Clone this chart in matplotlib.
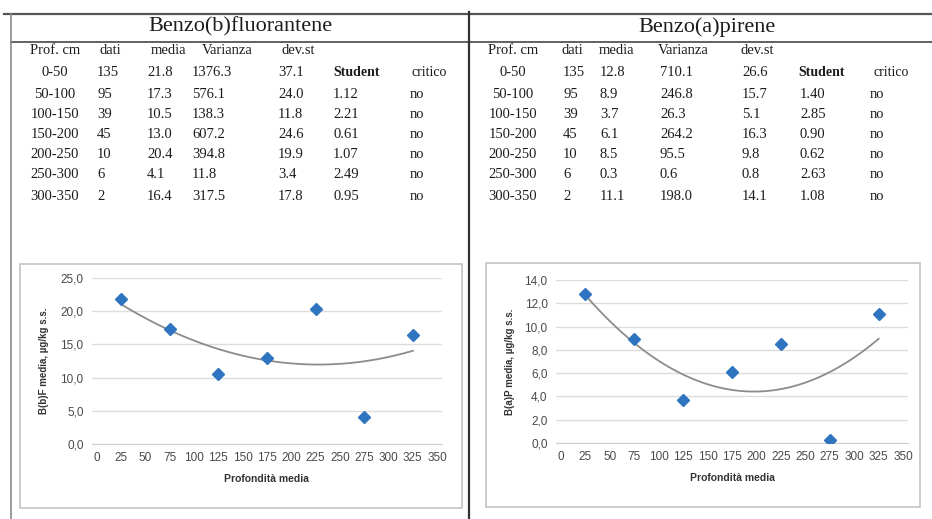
import numpy as np
import matplotlib
matplotlib.use('Agg')
import matplotlib.pyplot as plt
from matplotlib.ticker import FuncFormatter

W, H = 932, 519

# --- data ---
classes = ['0-50', '50-100', '100-150', '150-200', '200-250', '250-300', '300-350']
depth_mid = [25, 75, 125, 175, 225, 275, 325]
headers = ['Prof. cm', 'dati', 'media', 'Varianza', 'dev.st']

bbf_n = [135, 95, 39, 45, 10, 6, 2]
bbf_mean = [21.8, 17.3, 10.5, 13.0, 20.4, 4.1, 16.4]
bbf_var = ['1376.3', '576.1', '138.3', '607.2', '394.8', '11.8', '317.5']
bbf_sd = ['37.1', '24.0', '11.8', '24.6', '19.9', '3.4', '17.8']
bbf_t = ['1.12', '2.21', '0.61', '1.07', '2.49', '0.95']
bbf_crit = ['no', 'no', 'no', 'no', 'no', 'no']

bap_n = [135, 95, 39, 45, 10, 6, 2]
bap_mean = [12.8, 8.9, 3.7, 6.1, 8.5, 0.3, 11.1]
bap_var = ['710.1', '246.8', '26.3', '264.2', '95.5', '0.6', '198.0']
bap_sd = ['26.6', '15.7', '5.1', '16.3', '9.8', '0.8', '14.1']
bap_t = ['1.40', '2.85', '0.90', '0.62', '2.63', '1.08']
bap_crit = ['no', 'no', 'no', 'no', 'no', 'no']

fig = plt.figure(figsize=(W / 100, H / 100), dpi=100)
bg = fig.add_axes([0, 0, 1, 1])
bg.set_xlim(0, W)
bg.set_ylim(H, 0)
bg.axis('off')

serif = 'Liberation Serif'
ink = '#1c1c1c'

# frame lines of the scanned table
bg.plot([4, W], [14, 14], color='#555555', lw=1.6)
bg.plot([11, W], [42, 42], color='#555555', lw=1.3)
bg.plot([469, 469], [12, H], color='#333333', lw=1.6)
bg.plot([11, 11], [14, H], color='#8a8a8a', lw=1.2)

row_y = [72, 94, 115, 135, 155, 175, 196]
head_y = 50


def draw_table(title, title_x, n, mean, var, sd, tt, crit, cols):
    bg.text(title_x, 27, title, family=serif, fontsize=16, ha='center', va='center', color=ink)
    for h, x in zip(headers, cols['head']):
        bg.text(x, head_y, h, family=serif, fontsize=10.5, ha='center', va='center', color=ink)
    bg.text(cols['head_st'][0], row_y[0], 'Student', family=serif, fontsize=10,
            ha='center', va='center', color=ink, fontweight='bold')
    bg.text(cols['head_st'][1], row_y[0], 'critico', family=serif, fontsize=10,
            ha='center', va='center', color=ink)
    for i, y in enumerate(row_y):
        kw = dict(family=serif, fontsize=10.5, va='center', color=ink)
        bg.text(cols['lab'], y, classes[i], ha='center', **kw)
        bg.text(cols['n'], y, str(n[i]), ha='left', **kw)
        bg.text(cols['m'], y, f'{mean[i]:.1f}', ha='left', **kw)
        bg.text(cols['v'], y, var[i], ha='left', **kw)
        bg.text(cols['s'], y, sd[i], ha='left', **kw)
        if i > 0:
            bg.text(cols['t'], y, tt[i - 1], ha='left', **kw)
            bg.text(cols['c'], y, crit[i - 1], ha='left', **kw)


draw_table('Benzo(b)fluorantene', 240, bbf_n, bbf_mean, bbf_var, bbf_sd, bbf_t, bbf_crit,
           dict(head=[55, 110, 168, 227, 298], head_st=[357, 429], lab=55,
                n=97, m=147, v=192, s=278, t=333, c=410))
draw_table('Benzo(a)pirene', 707, bap_n, bap_mean, bap_var, bap_sd, bap_t, bap_crit,
           dict(head=[513, 572, 616, 683, 757], head_st=[822, 891], lab=513,
                n=563, m=600, v=660, s=742, t=800, c=870))

# chart boxes
for (x0, y0, x1, y1) in [(20, 264, 462, 508), (486, 263, 920, 507)]:
    bg.add_patch(plt.Rectangle((x0, y0), x1 - x0, y1 - y0, fill=False,
                               edgecolor='#c4c4c4', lw=1.2))


def px_rect(x0, y0, x1, y1):
    return [x0 / W, 1 - y1 / H, (x1 - x0) / W, (y1 - y0) / H]


comma = FuncFormatter(lambda v, p: f'{v:.1f}'.replace('.', ','))


def draw_chart(rect, means, ymax, ystep, ylabel, lab_x):
    ax = fig.add_axes(px_rect(*rect))
    ax.set_xlim(-5, 355)
    ax.set_ylim(0, ymax)
    x = np.array(depth_mid, float)
    y = np.array(means, float)
    # Excel-style 2nd order polynomial trendline
    coef = np.polyfit(x, y, 2)
    xs = np.linspace(x.min(), x.max(), 200)
    ax.plot(xs, np.polyval(coef, xs), color='#8c8c8c', lw=1.3, zorder=2)
    ax.plot(x, y, ls='none', marker='D', ms=6.5, color='#2f74c0', zorder=3)
    ax.set_xticks(np.arange(0, 351, 25))
    ax.set_yticks(np.arange(0, ymax + 0.01, ystep))
    ax.yaxis.set_major_formatter(comma)
    ax.grid(axis='y', color='#dcdcdc', lw=1)
    ax.set_axisbelow(True)
    for s in ['top', 'right', 'left']:
        ax.spines[s].set_visible(False)
    ax.spines['bottom'].set_color('#d0d0d0')
    ax.tick_params(length=0, labelsize=8.5, colors='#4a4a4a', pad=6)
    for t in ax.get_xticklabels() + ax.get_yticklabels():
        t.set_family('Liberation Sans')
    ax.set_xlabel('Profondità media', fontsize=7.5, fontweight='bold', color='#333333',
                  family='Liberation Sans', labelpad=7)
    bg.text(lab_x, (rect[1] + rect[3]) / 2, ylabel, rotation=90, fontsize=7,
            fontweight='bold', color='#333333', family='Liberation Sans',
            ha='center', va='center')
    return ax


draw_chart((92, 278, 442, 444), bbf_mean, 25, 5, 'B(b)F media, µg/kg s.s.', 44)
draw_chart((556, 280, 908, 443), bap_mean, 14, 2, 'B(a)P media, µg/kg s.s.', 510)

fig.savefig('out.png', dpi=100)
